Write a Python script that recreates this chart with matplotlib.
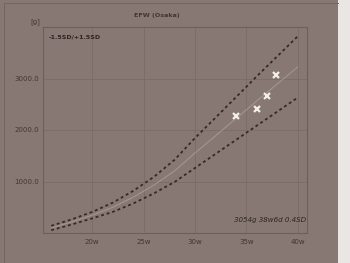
import matplotlib
matplotlib.use("Agg")
import matplotlib.pyplot as plt
from matplotlib.lines import Line2D
from matplotlib.patches import Rectangle

# Data
weeks = [16, 18, 20, 22, 24, 26, 28, 30, 32, 34, 36, 38, 40]
upper = [140, 265, 410, 590, 820, 1090, 1420, 1845, 2240, 2640, 3040, 3430, 3820]
lower = [55, 165, 285, 410, 575, 770, 990, 1263, 1536, 1810, 2083, 2356, 2630]
mean = [(u + l) / 2 for u, l in zip(upper, lower)]
pt_weeks = [34.0, 36.0, 37.0, 37.9]
pt_grams = [2280, 2415, 2660, 3060]
xticks = [20, 25, 30, 35, 40]
xticklabels = ["20w", "25w", "30w", "35w", "40w"]
yticks = [1000, 2000, 3000]
yticklabels = ["1000.0", "2000.0", "3000.0"]

bg = "#877873"
grid_c = "#7a6c65"
frame_c = "#6e6059"
text_c = "#42362f"
curve_c = "#3b2824"

fig = plt.figure(figsize=(3.5, 2.63), dpi=100)
fig.patch.set_facecolor(bg)

# outer decorations
fig.add_artist(Rectangle((338 / 350, 0), 12 / 350, 1, transform=fig.transFigure,
                         facecolor="#e9e6e3", edgecolor="none"))
fig.add_artist(Line2D([4 / 350, 4 / 350], [0, 1 - 3 / 263], transform=fig.transFigure,
                      color="#74665f", lw=0.7))
fig.add_artist(Line2D([4 / 350, 338 / 350], [1 - 3 / 263, 1 - 3 / 263], transform=fig.transFigure,
                      color="#74665f", lw=0.7))

ax = fig.add_axes([43 / 350, 30 / 263, 264 / 350, 206 / 263])
ax.set_facecolor(bg)
ax.set_xlim(15.2, 40.9)
ax.set_ylim(0, 4000)

for s in ax.spines.values():
    s.set_color(frame_c)
    s.set_linewidth(0.8)

ax.set_xticks(xticks)
ax.set_xticklabels(xticklabels)
ax.set_yticks(yticks)
ax.set_yticklabels(yticklabels)
ax.tick_params(length=0, labelsize=5, colors=text_c, pad=3)
ax.tick_params(axis="x", pad=4)
ax.grid(True, color=grid_c, lw=0.6)
ax.set_axisbelow(True)

ax.plot(weeks, mean, color="#ada199", lw=0.7, alpha=0.8)
ax.plot(weeks, upper, color=curve_c, lw=1.3, dashes=(1.6, 1.6))
ax.plot(weeks, lower, color=curve_c, lw=1.3, dashes=(1.6, 1.6))
ax.plot(pt_weeks, pt_grams, linestyle="none", marker="x", markersize=5,
        markeredgewidth=1.6, color="#f3eee8")

fig.text(157 / 350, 1 - 15 / 263, "EFW (Osaka)", ha="center", va="center",
         fontsize=4.6, fontweight="bold", color=text_c)
fig.text(35 / 350, 1 - 22 / 263, "[g]", ha="center", va="center",
         fontsize=5, color=text_c)
ax.text(0.02, 0.965, "-1.5SD/+1.5SD", transform=ax.transAxes, ha="left", va="top",
        fontsize=4.5, fontweight="bold", color="#2e2420")
ax.text(0.995, 0.065, "3054g 38w6d 0.4SD", transform=ax.transAxes, ha="right",
        va="center", fontsize=5.1, style="italic", color="#2e2420")

fig.savefig("out.png", dpi=100, facecolor=fig.get_facecolor())
